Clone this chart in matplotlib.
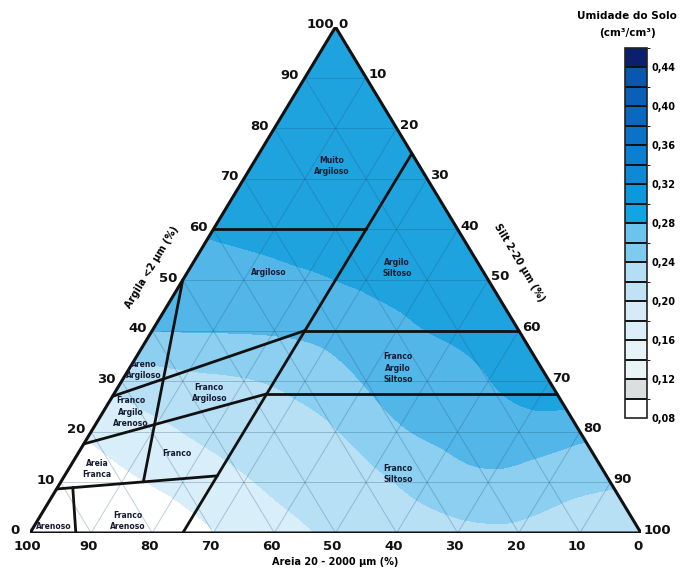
import numpy as np
import matplotlib
matplotlib.use("Agg")
import matplotlib.pyplot as plt
import matplotlib.tri as mtri
from matplotlib.colors import ListedColormap, BoundaryNorm
import matplotlib.cm as cm
from matplotlib.transforms import offset_copy

# ---------------------------------------------------------------------------
# Soil moisture (cm3/cm3) at grid nodes of the texture triangle.
# Row i -> clay = 10*i %, column j -> silt = 10*j % (sand = remainder).
# ---------------------------------------------------------------------------
moisture_rows = [
    [0.140, 0.150, 0.180, 0.199, 0.212, 0.223, 0.229, 0.234, 0.236, 0.232, 0.225],  # clay 0
    [0.170, 0.193, 0.207, 0.218, 0.227, 0.234, 0.2475, 0.2556, 0.248, 0.242],       # clay 10
    [0.204, 0.216, 0.224, 0.231, 0.239, 0.257, 0.266, 0.272, 0.266],                # clay 20
    [0.226, 0.2345, 0.2386, 0.2467, 0.2615, 0.272, 0.2795, 0.290],                  # clay 30
    [0.260, 0.261, 0.262, 0.267, 0.277, 0.282, 0.286],                              # clay 40
    [0.272, 0.2745, 0.278, 0.282, 0.284, 0.287],                                    # clay 50
    [0.282, 0.284, 0.285, 0.287, 0.289],                                            # clay 60
    [0.289, 0.290, 0.291, 0.293],                                                   # clay 70
    [0.296, 0.297, 0.298],                                                          # clay 80
    [0.303, 0.303],                                                                 # clay 90
    [0.310],                                                                        # clay 100
]

# Texture class boundaries as (silt %, clay %) polylines
class_lines = [
    [(0, 60), (25, 60)],
    [(25, 75), (25, 0)],
    [(25, 40), (60, 40)],
    [(25, 27.5), (72.5, 27.5)],
    [(0, 50), (13.5, 10.1)],
    [(0, 17.6), (25, 27.5)],
    [(0, 27), (25, 40)],
    [(0, 8.7), (25, 11.3)],
    [(2.5, 9.0), (7.5, 0)],
]

class_names = [
    "Muito\nArgiloso", "Argiloso", "Argilo\nSiltoso", "Franco\nArgilo\nSiltoso",
    "Areno\nArgiloso", "Franco\nArgiloso", "Franco\nArgilo\nArenoso", "Franco",
    "Areia\nFranca", "Franco\nArenoso", "Arenoso", "Franco\nSiltoso",
]
# label anchor (silt %, clay %)
class_label_pos = [
    (13.2, 72.5), (13.3, 51.4), (33.9, 52.4), (43.9, 32.6),
    (2.6, 32.2), (15.5, 27.7), (4.5, 23.9), (16.2, 15.8),
    (4.7, 12.6), (14.8, 2.4), (3.3, 1.2), (54.4, 11.7),
]

axis_ticks = list(range(0, 101, 10))

# Colour scale
cb_levels = [round(0.08 + 0.02 * k, 2) for k in range(20)]
cb_colors = ['#ffffff', '#dcdfe0', '#e8f4f6', '#e6f3f8', '#dbeff8', '#d5ecf8',
             '#bfe3f5', '#b3def5', '#7fcbf0', '#6cc3ee', '#12a5e5', '#0e98dc',
             '#0d89d5', '#0c7fd0', '#0b72c8', '#0a68c0', '#0a60b8', '#0a57b0',
             '#0a1f6e']
cb_ticks = [0.08, 0.12, 0.16, 0.20, 0.24, 0.28, 0.32, 0.36, 0.40, 0.44]

fill_levels = [0.0, 0.20, 0.22, 0.24, 0.26, 0.28, 0.40]
fill_colors = ['#ffffff', '#d8eef9', '#b8e0f5', '#8ccff1', '#52b6e9', '#1ea3de']


def to_xy(silt, clay):
    silt = np.asarray(silt, float)
    clay = np.asarray(clay, float)
    return silt + clay / 2.0, clay


fig = plt.figure(figsize=(6.84, 5.73), dpi=100)
ax = fig.add_axes([30 / 684, 40 / 573, 611 / 684, 506 / 573])
ax.set_xlim(0, 100)
ax.set_ylim(0, 100)
ax.axis('off')

# moisture field
node_silt, node_clay, node_val = [], [], []
for i, row in enumerate(moisture_rows):
    for j, v in enumerate(row):
        node_silt.append(10 * j)
        node_clay.append(10 * i)
        node_val.append(v)
px, py = to_xy(node_silt, node_clay)
tri = mtri.Triangulation(px, py)
refiner = mtri.UniformTriRefiner(tri)
tri_f, val_f = refiner.refine_field(np.array(node_val), subdiv=4)
ax.tricontourf(tri_f, val_f, levels=fill_levels, colors=fill_colors, zorder=1)

# grid
grid_kw = dict(color='#1f4f73', alpha=0.28, lw=0.7, zorder=2)
for k in range(10, 100, 10):
    x, y = to_xy([0, 100 - k], [k, k])
    ax.plot(x, y, **grid_kw)
    x, y = to_xy([k, k], [0, 100 - k])
    ax.plot(x, y, **grid_kw)
    x, y = to_xy([100 - k, 0], [0, 100 - k])
    ax.plot(x, y, **grid_kw)

# class boundaries
for line in class_lines:
    s, c = zip(*line)
    x, y = to_xy(s, c)
    ax.plot(x, y, color='#111111', lw=2.0, solid_capstyle='round', zorder=4)

# outline
x, y = to_xy([0, 100, 0, 0], [0, 0, 100, 0])
ax.plot(x, y, color='#111111', lw=2.2, solid_joinstyle='miter', zorder=5)

# class names
for name, (s, c) in zip(class_names, class_label_pos):
    x, y = to_xy(s, c)
    ax.text(x, y, name, ha='center', va='center', fontsize=5.5,
            fontweight='bold', color='#151b30', linespacing=1.3, zorder=6)

# axis tick labels
num_kw = dict(fontsize=9.5, fontweight='bold', color='#111111', clip_on=False)
tr_left = offset_copy(ax.transData, fig=fig, x=-15, y=2, units='dots')
tr_right = offset_copy(ax.transData, fig=fig, x=3, y=3, units='dots')
tr_bottom = offset_copy(ax.transData, fig=fig, x=-3, y=-14, units='dots')
for t in axis_ticks:
    x, y = to_xy(0, t)
    ax.text(x, y, str(t), transform=tr_left, ha='center', va='center', **num_kw)
    x, y = to_xy(t, 100 - t)
    ax.text(x, y, str(t), transform=tr_right, ha='left', va='center', **num_kw)
    x, y = to_xy(100 - t, 0)
    ax.text(x, y, str(t), transform=tr_bottom, ha='center', va='center', **num_kw)

# axis titles
fig.text(335 / 684, 1 - 562 / 573, "Areia 20 - 2000 µm (%)", ha='center', va='center',
         fontsize=7, fontweight='bold')
fig.text(152 / 684, 1 - 267 / 573, "Argila <2 µm (%)", ha='center', va='center',
         fontsize=7, fontweight='bold', rotation=59)
fig.text(519 / 684, 1 - 263 / 573, "Silt 2-20 µm (%)", ha='center', va='center',
         fontsize=7, fontweight='bold', rotation=-59)

# colour bar
cax = fig.add_axes([625 / 684, 1 - 418 / 573, 22 / 684, 370 / 573])
sm = cm.ScalarMappable(norm=BoundaryNorm(cb_levels, len(cb_colors)),
                       cmap=ListedColormap(cb_colors))
cb = fig.colorbar(sm, cax=cax, ticks=cb_ticks, drawedges=True)
cb.outline.set_linewidth(1.2)
cb.outline.set_edgecolor('#222222')
cb.dividers.set_color('#111111')
cb.dividers.set_linewidth(1.4)
cax.tick_params(length=0, pad=3)
cax.set_yticklabels([f"{t:.2f}".replace('.', ',') for t in cb_ticks],
                    fontsize=7, fontweight='bold')
fig.text(627 / 684, 1 - 16 / 573, "Umidade do Solo", ha='center', va='center',
         fontsize=7.5, fontweight='bold')
fig.text(627 / 684, 1 - 33 / 573, "(cm³/cm³)", ha='center', va='center',
         fontsize=7.5, fontweight='bold')

fig.savefig("out.png", dpi=100)
